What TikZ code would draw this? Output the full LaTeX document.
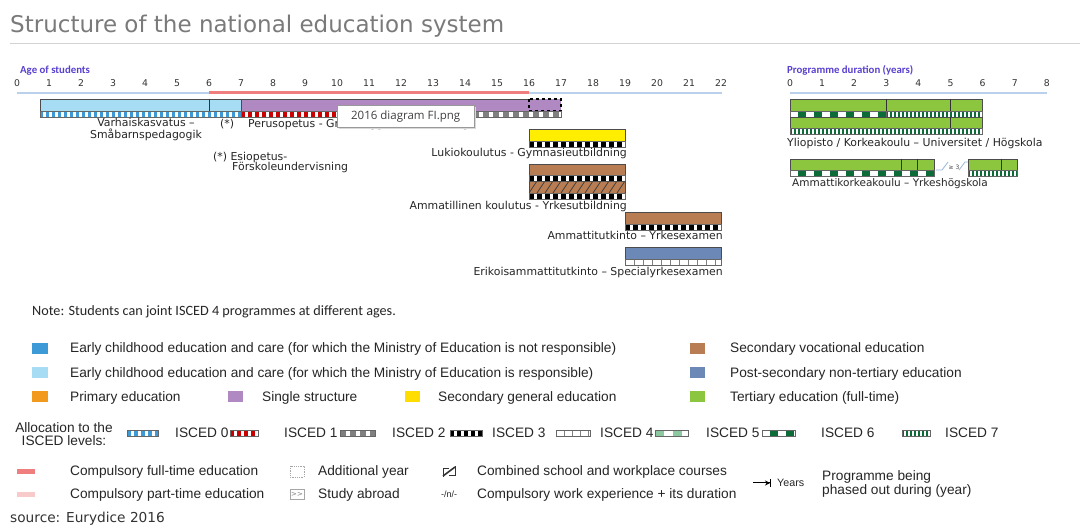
\documentclass[tikz,border=0pt]{standalone}
\usepackage{fontspec}
\usepackage{tikz}
\usetikzlibrary{arrows.meta,positioning}
\setmainfont{Liberation Sans}
\newfontfamily\verdanafont{DejaVu Sans}
\newfontfamily\calibrifont{Carlito}
\newfontfamily\tipfont{Open Sans}
\definecolor{ececblue}{RGB}{61,154,214}
\definecolor{ececlight}{RGB}{166,220,244}
\definecolor{primaryorange}{RGB}{242,154,29}
\definecolor{singlepurple}{RGB}{176,136,194}
\definecolor{secyellow}{RGB}{255,238,0}
\definecolor{vocbrown}{RGB}{184,125,82}
\definecolor{postsecblue}{RGB}{108,136,182}
\definecolor{tertgreen}{RGB}{140,198,63}
\definecolor{darkgreen}{RGB}{12,108,56}
\definecolor{lightgreen}{RGB}{140,200,160}
\definecolor{comprred}{RGB}{239,127,127}
\definecolor{partpink}{RGB}{248,202,202}
\definecolor{axisblue}{RGB}{185,209,234}
\definecolor{agepurple}{RGB}{90,64,208}
\definecolor{titlegray}{RGB}{122,122,122}
\definecolor{slashblue}{RGB}{150,182,214}

% strip of ISCED cells under a bar: [offset] from, to, top, colour, cell width, period
\newcommand{\iscedstrip}[7][0]{%
  \begin{scope}
    \clip (#2,#4) rectangle (#3,#4+6);
    \fill[white] (#2,#4) rectangle (#3,#4+6);
    \pgfmathtruncatemacro{\ncells}{(#3-#2)/#7+1}
    \foreach \k in {0,...,\ncells}
      \fill[#5] ({#2+#1+\k*#7},#4) rectangle ++(#6,6);
  \end{scope}
  \draw[stripedge] (#2,#4) rectangle (#3,#4+6);}

\tikzset{
  tick/.style={font=\verdanafont\fontsize{9.3}{10}\selectfont, anchor=base, inner sep=0pt, text=black!80},
  barlabel/.style={font=\verdanafont\fontsize{10.9}{12.5}\selectfont, inner sep=0pt, text=black!85},
  axistitle/.style={anchor=base west, inner sep=0pt, text=agepurple, font=\calibrifont\bfseries\fontsize{10.8}{12}\selectfont},
  bar/.style={draw=black!70, line width=0.8pt},
  stripedge/.style={draw=black!60, line width=0.5pt},
  divider/.style={draw=black!80, line width=0.8pt},
  legtext/.style={font=\fontsize{13.7}{16}\selectfont, anchor=base west, inner sep=0pt, text=black!85},
  hatchline/.style={draw=black!75, line width=0.7pt}
}

\begin{document}
\begin{tikzpicture}[x=1pt, y=-1pt]
    \useasboundingbox (0,0) rectangle (1080,526);
    \fill[white] (0,0) rectangle (1080,526);

    % Heading
    \node[anchor=base west, inner sep=0pt, text=titlegray, font=\verdanafont\fontsize{23}{26}\selectfont] (title) at (10,33) {Structure of the national education system};
    \draw[gray!35, line width=0.8pt] (10,43) -- (1080,43);

    % Age axis
    \node[axistitle] (agetitle) at (20,74) {Age of students};
    \foreach \a in {0,...,22}
        \node[tick] (age\a) at ({17+32*\a},87) {\a};
    \draw[axisblue, line width=1.6pt] (17,93) -- (722,93);
    \draw[comprred, line width=3pt] (209,92.5) -- (529,92.5);

    % Early childhood and single structure
    \fill[ececlight] (40,99) rectangle (241,111);
    \draw[bar] (40,99) rectangle (241,111);
    \draw[divider] (209,99) -- (209,111);
    \fill[singlepurple] (241,99) rectangle (529,111);
    \draw[bar] (241,99) rectangle (529,111);
    \fill[singlepurple] (529,99) rectangle (561,111);
    \draw[black, dashed, line width=1.3pt] (529,99) rectangle (561,111);
    \iscedstrip{40}{241}{111}{ececblue}{3}{6}
    \iscedstrip{241}{433}{111}{red!80!black}{4}{7}
    \iscedstrip{433}{561}{111}{gray}{6}{10}

    \node[barlabel, align=center, anchor=north] (varhais) at (146,118) {Varhaiskasvatus –\\Småbarnspedagogik};
    \node[barlabel, anchor=base west] (star) at (220,128) {(*)};
    \node[barlabel, anchor=base west] (peruso) at (248,128) {Perusopetus - Grundläggande utbildning};
    \node[barlabel, anchor=base west] (esio) at (213,161) {(*) Esiopetus-};
    \node[barlabel, anchor=base west] (forskole) at (232,171) {Förskoleundervisning};

    % Upper secondary
    \fill[secyellow] (529,129) rectangle (625,141);
    \draw[bar] (529,129) rectangle (625,141);
    \iscedstrip{529}{625}{141}{black}{5}{8}
    \node[barlabel, anchor=base east] (lukio) at (627,157) {Lukiokoulutus - Gymnasieutbildning};

    \fill[vocbrown] (529,164) rectangle (625,175);
    \draw[bar] (529,164) rectangle (625,175);
    \iscedstrip{529}{625}{175}{black}{5}{8}
    \fill[vocbrown] (529,181) rectangle (625,193);
    \begin{scope}
        \clip (529,181) rectangle (625,193);
        \foreach \k in {0,...,13}
            \draw[hatchline] ({529+\k*8},193) -- ++(8,-12);
    \end{scope}
    \draw[bar] (529,181) rectangle (625,193);
    \iscedstrip{529}{625}{193}{black}{5}{8}
    \node[barlabel, anchor=base east] (ammat) at (627,210) {Ammatillinen koulutus - Yrkesutbildning};

    % Further vocational qualifications
    \fill[vocbrown] (625,212) rectangle (721,224);
    \draw[bar] (625,212) rectangle (721,224);
    \iscedstrip{625}{721}{224}{black}{5}{8}
    \node[barlabel, anchor=base east] (ammtut) at (723,240) {Ammattitutkinto – Yrkesexamen};

    \fill[postsecblue] (625,247) rectangle (721,259);
    \draw[bar] (625,247) rectangle (721,259);
    \iscedstrip{625}{721}{259}{gray}{1}{9}
    \node[barlabel, anchor=base east] (erikois) at (723,276) {Erikoisammattitutkinto – Specialyrkesexamen};

    % Tooltip
    \fill[black!15] (339,107) rectangle (476,129);
    \node[draw=gray!80, fill=white, anchor=north west, minimum width=137pt, minimum height=22pt, inner xsep=7pt, align=left, text=black!75, font=\tipfont\fontsize{11.5}{13}\selectfont] (tip) at (337,105) {2016 diagram FI.png};

    % Programme duration axis
    \node[axistitle] (durtitle) at (787,74) {Programme duration (years)};
    \foreach \d in {0,...,8}
        \node[tick] (dur\d) at ({790+32.1*\d},87) {\d};
    \draw[axisblue, line width=1.6pt] (790,93) -- (1047,93);

    % Universities
    \fill[tertgreen] (790,99) rectangle (982,111);
    \draw[bar] (790,99) rectangle (982,111);
    \draw[divider] (886,99) -- (886,111);
    \draw[divider] (950,99) -- (950,111);
    \iscedstrip[8]{790}{886}{111}{darkgreen}{8}{16}
    \iscedstrip{886}{982}{111}{darkgreen}{2}{4}
    \fill[tertgreen] (790,117) rectangle (982,128);
    \draw[bar] (790,117) rectangle (982,128);
    \draw[divider] (950,117) -- (950,128);
    \iscedstrip{790}{982}{128}{darkgreen}{2}{4}
    \node[barlabel, anchor=base west] (yliopisto) at (787,147) {Yliopisto / Korkeakoulu – Universitet / Högskola};

    % Universities of applied sciences
    \fill[tertgreen] (790,159) rectangle (934,170);
    \draw[bar] (790,159) rectangle (934,170);
    \draw[divider] (901,159) -- (901,170);
    \draw[divider] (917,159) -- (917,170);
    \iscedstrip[8]{790}{934}{170}{darkgreen}{8}{16}
    \draw[slashblue, line width=0.8pt] (936,170) -- (942,170) -- (948,162);
    \node[inner sep=0pt, text=black!70, font=\verdanafont\fontsize{6}{7}\selectfont] (atleast) at (954,167) {≥ 3};
    \draw[slashblue, line width=0.8pt] (959,170) -- (965,162) -- (968,162);
    \fill[tertgreen] (968,159) rectangle (1017,170);
    \draw[bar] (968,159) rectangle (1017,170);
    \draw[divider] (1001,159) -- (1001,170);
    \iscedstrip{968}{1017}{170}{darkgreen}{2}{4}
    \node[barlabel, anchor=base west, font=\verdanafont\fontsize{10.5}{12}\selectfont] (amk) at (792,187) {Ammattikorkeakoulu – Yrkeshögskola};

    % Legend
    \node[anchor=base west, inner sep=0pt, text=black!85, font=\calibrifont\fontsize{14.2}{16}\selectfont] (note) at (32,316) {Note: Students can joint ISCED 4 programmes at different ages.};

    \fill[ececblue] (32,343) rectangle (48,354);
    \node[legtext] (lgecec) at (70,353) {Early childhood education and care (for which the Ministry of Education is not responsible)};
    \fill[ececlight] (32,367) rectangle (48,378);
    \node[legtext] (lgececlight) at (70,377.5) {Early childhood education and care (for which the Ministry of Education is responsible)};
    \fill[primaryorange] (32,391) rectangle (48,402);
    \node[legtext] (lgprimary) at (70,402) {Primary education};
    \fill[singlepurple] (228,391) rectangle (243,402);
    \node[legtext] (lgsingle) at (262,402) {Single structure};
    \fill[secyellow!85!orange] (405,391) rectangle (420,402);
    \node[legtext] (lgsecgen) at (438,402) {Secondary general education};
    \fill[vocbrown] (690,343) rectangle (705,354);
    \node[legtext] (lgsecvoc) at (730,353) {Secondary vocational education};
    \fill[postsecblue] (690,367) rectangle (705,378);
    \node[legtext] (lgpostsec) at (730,377.5) {Post-secondary non-tertiary education};
    \fill[tertgreen] (690,391) rectangle (705,402);
    \node[legtext] (lgtert) at (730,402) {Tertiary education (full-time)};

    % ISCED levels
    \node[inner sep=0pt, align=center, text=black!85, font=\fontsize{13.7}{13.5}\selectfont] (alloc) at (64,434) {Allocation to the\\ISCED levels:};
    \iscedstrip{127}{158}{430}{ececblue}{4}{7}
    \node[legtext] (isced0) at (175,438) {ISCED 0};
    \iscedstrip{230}{258}{430}{red!80!black}{4}{7}
    \node[legtext] (isced1) at (284,438) {ISCED 1};
    \iscedstrip{340}{375}{430}{gray}{6}{10}
    \node[legtext] (isced2) at (392,438) {ISCED 2};
    \iscedstrip{450}{482}{430}{black}{4}{7}
    \node[legtext] (isced3) at (492,438) {ISCED 3};
    \iscedstrip{556}{590}{430}{gray}{1}{8}
    \node[legtext] (isced4) at (600,438) {ISCED 4};
    \iscedstrip{655}{688}{430}{lightgreen}{9}{18}
    \node[legtext] (isced5) at (706,438) {ISCED 5};
    \iscedstrip[8]{762}{795}{430}{darkgreen}{8}{16}
    \node[legtext] (isced6) at (821,438) {ISCED 6};
    \iscedstrip{902}{930}{430}{darkgreen}{2}{4}
    \node[legtext] (isced7) at (945,438) {ISCED 7};

    % Other symbols
    \fill[comprred] (17,469) rectangle (35,474);
    \node[legtext] (lgfull) at (70,476) {Compulsory full-time education};
    \fill[partpink] (17,492) rectangle (35,497);
    \node[legtext] (lgpart) at (70,499) {Compulsory part-time education};
    \draw[gray!70, densely dotted, line width=0.8pt] (290,466) rectangle (304,477);
    \node[legtext] (lgaddyear) at (318,476) {Additional year};
    \draw[gray!70, line width=0.6pt] (290,489) rectangle (304,499);
    \node[inner sep=0pt, text=gray, font=\verdanafont\fontsize{7}{8}\selectfont] (abroadsym) at (297,494) {>{}>};
    \node[legtext] (lgabroad) at (318,499) {Study abroad};
    \draw[black!80, line width=0.8pt] (443,477) -- (443,468) -- (449,468);
    \draw[black!80, line width=0.8pt] (455,466) -- (455,475) -- (449,475);
    \draw[black!80, line width=1.6pt] (443,476) -- (455,467);
    \node[legtext] (lgcombined) at (477,476) {Combined school and workplace courses};
    \node[anchor=base west, inner sep=0pt, text=black!85, font=\fontsize{9}{10}\selectfont] (worksym) at (441,497.5) {-/n/-};
    \node[legtext] (lgwork) at (477,499) {Compulsory work experience + its duration};
    \coordinate (yearfrom) at (753,483);
    \coordinate (yearto) at (771,483);
    \draw[black, line width=1pt, -{Stealth[length=5pt,width=5pt]Bar[width=8pt]}] (yearfrom) -- (yearto);
    \node[anchor=base west, inner sep=0pt, text=black!85, font=\fontsize{10.7}{12}\selectfont] (lgyears) at (777,487) {Years};
    \node[anchor=base west, inner sep=0pt, align=left, text=black!85, font=\fontsize{13.7}{14.5}\selectfont] (lgphased) at (822,495) {Programme being\\phased out during (year)};

    % Source
    \node[anchor=base west, inner sep=0pt, text=black!80, font=\verdanafont\fontsize{13.7}{15}\selectfont] (source) at (10,523) {source: Eurydice 2016};
\end{tikzpicture}
\end{document}
